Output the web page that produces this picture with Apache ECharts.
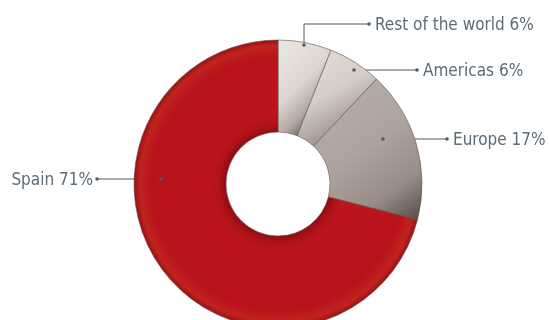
<!DOCTYPE html>
<html>
<head>
<meta charset="utf-8">
<script src="https://cdn.jsdelivr.net/npm/echarts@6/dist/echarts.min.js"></script>
<style>
  html, body { margin: 0; padding: 0; background: #fff; }
  #chart { width: 549px; height: 320px; }
</style>
</head>
<body>
<div id="chart"></div>
<script>
// data
const regions = ['Rest of the world', 'Americas', 'Europe', 'Spain'];
const shares = [6, 6, 17, 71];

// where each callout goes (anchor on slice -> elbow -> end next to text)
const callouts = [
    { pts: [[304, 45], [304, 24], [369, 24]], align: 'left' },
    { pts: [[354, 70], [386, 70], [417, 70]], align: 'left' },
    { pts: [[383, 139], [415, 139], [447, 139]], align: 'left' },
    { pts: [[161, 179], [129, 179], [97, 179]], align: 'right' }
];

const cx = 278, cy = 184, rOut = 144, rIn = 52;
const k = rIn / rOut;

function lin(x, y, x2, y2, stops) {
    return {
        type: 'linear', x: x, y: y, x2: x2, y2: y2,
        colorStops: stops.map(function (s) { return { offset: s[0], color: s[1] }; })
    };
}

const sliceColors = [
    lin(0, 0.2, 1, 0.75, [[0, '#e9e3de'], [0.45, '#ddd5cf'], [0.75, '#b3a8a1'], [1, '#5f544e']]),
    lin(0.1, 0, 0.8, 1, [[0, '#e4ddd7'], [0.45, '#d6cdc7'], [0.75, '#a89d96'], [1, '#5f544e']]),
    lin(0, 0, 0.9, 1, [[0, '#b9b0a9'], [0.5, '#aea49d'], [0.8, '#988d86'], [1, '#5e534d']]),
    {
        type: 'radial', x: cx, y: cy, r: rOut, global: true,
        colorStops: [
            { offset: k, color: '#8e0c12' },
            { offset: k + 0.05, color: '#b01219' },
            { offset: k + 0.1, color: '#bc141c' },
            { offset: 0.88, color: '#b8131b' },
            { offset: 0.96, color: '#c0241f' },
            { offset: 1, color: '#9a1016' }
        ]
    }
];

const chart = echarts.init(document.getElementById('chart'));

const pieData = regions.map(function (name, i) {
    return { name: name, value: shares[i], itemStyle: { color: sliceColors[i] } };
});

// little dots at both ends of each leader line
let dots = [];
callouts.forEach(function (c) {
    [c.pts[0], c.pts[2]].forEach(function (p) {
        dots.push({
            type: 'circle', z: 10,
            shape: { cx: p[0], cy: p[1], r: 1.8 },
            style: { fill: '#4f5d66' }
        });
    });
});

chart.setOption({
    animation: false,
    graphic: dots,
    series: [{
        type: 'pie',
        center: [cx, cy],
        radius: [rIn, rOut],
        startAngle: 90,
        clockwise: true,
        data: pieData,
        itemStyle: { borderColor: '#5e534e', borderWidth: 0.6 },
        emphasis: { disabled: true },
        label: {
            show: true,
            formatter: '{b} {c}%',
            color: '#5c6b75',
            fontFamily: 'Liberation Sans Narrow, DejaVu Sans Condensed, sans-serif',
            fontSize: 17,
            overflow: 'none',
            width: 200
        },
        labelLine: {
            show: true,
            lineStyle: { color: '#4f5d66', width: 1 }
        },
        labelLayout: function (p) {
            const c = callouts[p.dataIndex];
            const end = c.pts[2];
            return {
                x: c.align === 'left' ? end[0] + 6 : end[0] - 4,
                y: end[1] + 1.5,
                align: c.align,
                verticalAlign: 'middle',
                labelLinePoints: c.pts
            };
        }
    }]
});
</script>
</body>
</html>
